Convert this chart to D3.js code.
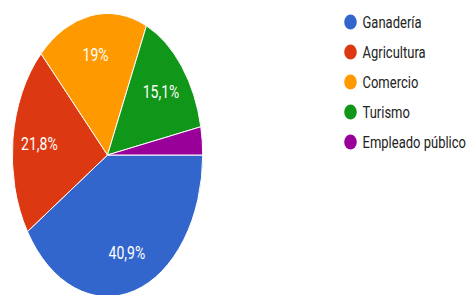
<!DOCTYPE html>
<html>
<head>
<meta charset="utf-8">
<script src="https://cdn.jsdelivr.net/npm/d3@7"></script>
<style>
  html, body { margin: 0; padding: 0; background: #fff; overflow: hidden; }
  text { font-family: Roboto, "Noto Sans", sans-serif; }
</style>
</head>
<body>
<svg id="chart"></svg>
<script>
// DATA
const categories = ["Ganadería", "Agricultura", "Comercio", "Turismo", "Empleado público"];
const shares = [40.9, 21.8, 19, 15.1, 3.2];
const colors = ["#3366cc", "#dc3912", "#ff9900", "#109618", "#990099"];

// SIZES
const width = 469, height = 295;
const center = {x: 107.5, y: 155};
const radius = 95.2;
const stretch = 141.5 / radius;   // pie is drawn tall
const textStretch = 1.32;
const labelPos = 0.72;

const svg = d3.select('#chart')
              .attr('width', width)
              .attr('height', height);

const data = categories.map((c, i) => ({name: c, value: shares[i], color: colors[i]}));

const pie = d3.pie()
              .value(d => d.value)
              .sort(null)
              .startAngle(Math.PI / 2)
              .endAngle(Math.PI / 2 + 2 * Math.PI);
const arc = d3.arc().innerRadius(0).outerRadius(radius);
const labelArc = d3.arc().innerRadius(radius * labelPos).outerRadius(radius * labelPos);

const slices = pie(data);

const pieGroup = svg.append('g')
                    .attr('transform', `translate(${center.x},${center.y}) scale(1,${stretch})`);
pieGroup.selectAll('path')
        .data(slices)
        .enter()
        .append('path')
          .attr('d', arc)
          .attr('fill', d => d.data.color)
          .attr('stroke', '#fff')
          .attr('stroke-width', 1)
          .attr('vector-effect', 'non-scaling-stroke');

// LABELS
const locale = d3.formatLocale({decimal: ",", thousands: ".", grouping: [3], currency: ["", "€"]});
const fmt = locale.format(".1~f");

svg.selectAll('.slice-label')
   .data(slices.filter(d => d.data.value >= 5))
   .enter()
   .append('text')
     .attr('class', 'slice-label')
     .attr('transform', d => {
        const [px, py] = labelArc.centroid(d);
        return `translate(${center.x + px},${center.y + py * stretch}) scale(1,${textStretch})`;
     })
     .attr('text-anchor', 'middle')
     .attr('dy', '0.36em')
     .attr('fill', '#fff')
     .style('font-size', '14px')
     .text(d => fmt(d.data.value) + '%');

// LEGEND
const legendY = d3.scalePoint()
                  .domain(categories)
                  .range([22, 142]);
const legend = svg.append('g');
const items = legend.selectAll('g')
                    .data(data)
                    .enter()
                    .append('g')
                      .attr('transform', d => `translate(350.5,${legendY(d.name)})`);
items.append('ellipse')
     .attr('rx', 6.3)
     .attr('ry', 7.6)
     .attr('fill', d => d.color);
items.append('text')
     .attr('transform', `translate(12,0) scale(1,${textStretch})`)
     .attr('dy', '0.36em')
     .attr('fill', '#222')
     .style('font-size', '13px')
     .text(d => d.name);
</script>
</body>
</html>
